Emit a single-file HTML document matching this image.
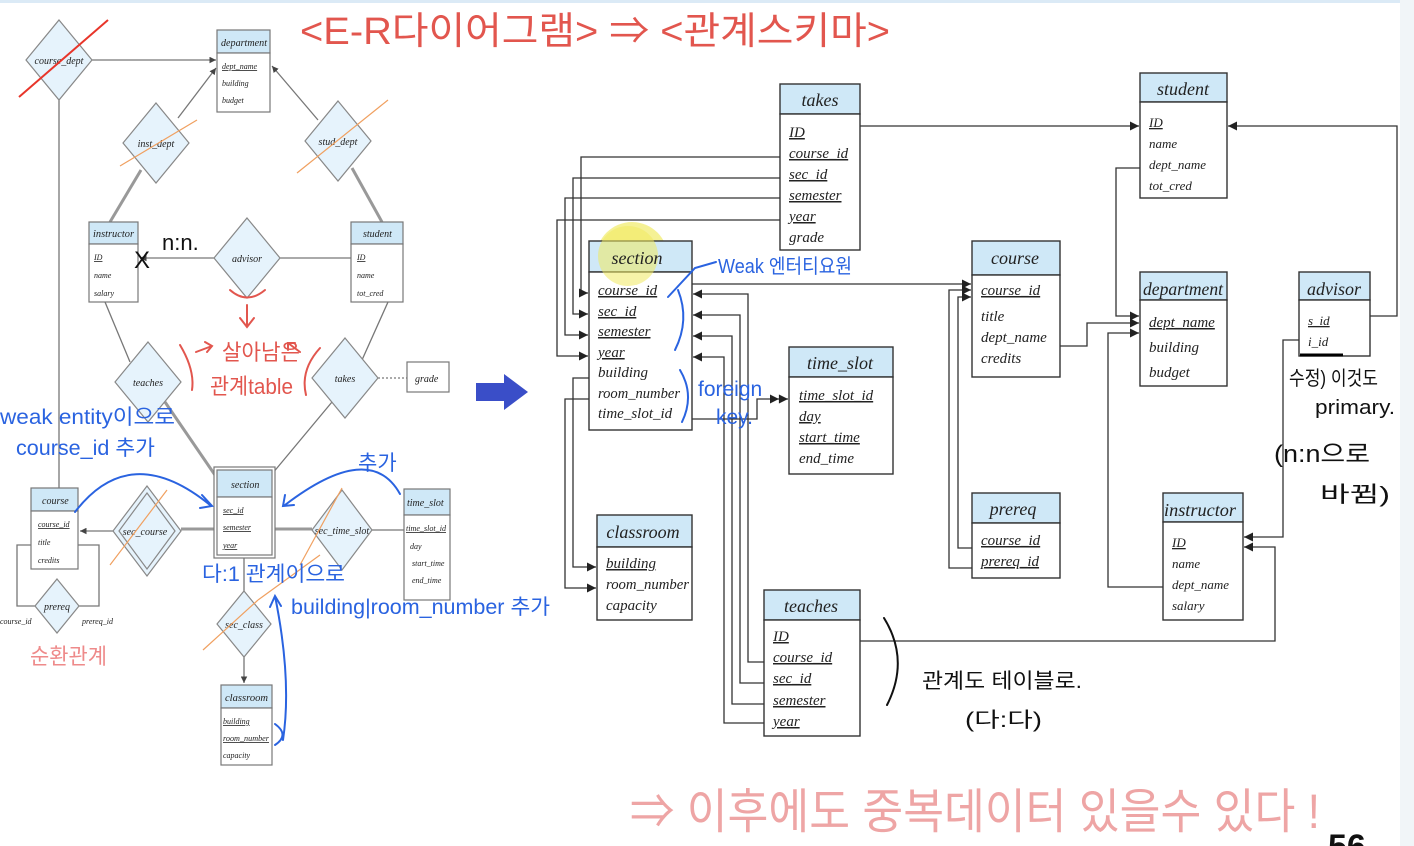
<!DOCTYPE html>
<html><head><meta charset="utf-8"><style>
html,body{margin:0;padding:0;background:#fff;width:1414px;height:846px;overflow:hidden}
svg{display:block}
.t{font-family:"Liberation Serif",serif;font-style:italic;fill:#222}
.u{text-decoration:underline}
.h{font-family:"Liberation Sans","Noto Sans CJK KR",sans-serif}
</style></head><body>
<svg width="1414" height="846" viewBox="0 0 1414 846" xmlns="http://www.w3.org/2000/svg">
<defs>
<marker id="a" viewBox="0 0 10 10" refX="10" refY="5" markerWidth="7" markerHeight="7" orient="auto"><path d="M0,0L10,5L0,10z" fill="#222"/></marker>
<marker id="a2" viewBox="0 0 20 10" refX="20" refY="5" markerWidth="14" markerHeight="7" orient="auto"><path d="M0,0L10,5L0,10zM10,0L20,5L10,10z" fill="#222"/></marker>
<marker id="s" viewBox="0 0 10 10" refX="10" refY="5" markerWidth="5" markerHeight="5" orient="auto"><path d="M0,0L10,5L0,10z" fill="#444"/></marker>
</defs>
<rect x="0" y="0" width="1414" height="3" fill="#dbeaf6"/>
<rect x="1400" y="0" width="14" height="846" fill="#f1f5f8"/>

<!-- ===== LEFT ER DIAGRAM ===== -->
<g stroke="#777" stroke-width="1.3" fill="none">
<line x1="59" y1="100" x2="59" y2="488"/>
<line x1="92" y1="60" x2="216" y2="60" marker-end="url(#s)"/>
<line x1="178" y1="118" x2="216" y2="68" marker-end="url(#s)"/>
<line x1="318" y1="120" x2="272" y2="66" marker-end="url(#s)"/>
<line x1="141" y1="170" x2="110" y2="222" stroke-width="3" stroke="#999"/>
<line x1="352" y1="168" x2="382" y2="222" stroke-width="3" stroke="#999"/>
<line x1="214" y1="258" x2="140" y2="258" marker-end="url(#s)"/>
<line x1="280" y1="258" x2="351" y2="258"/>
<line x1="105" y1="302" x2="130" y2="362"/>
<line x1="388" y1="302" x2="362" y2="360"/>
<line x1="165" y1="402" x2="217" y2="478" stroke-width="3" stroke="#999"/>
<line x1="332" y1="402" x2="272" y2="474"/>
<line x1="378" y1="378" x2="407" y2="378" stroke-dasharray="2,2"/>
<line x1="114" y1="531" x2="80" y2="531" marker-end="url(#s)"/>
<line x1="181" y1="529" x2="217" y2="529" stroke-width="3" stroke="#999"/>
<line x1="272" y1="529" x2="312" y2="529" stroke-width="3" stroke="#999"/>
<line x1="372" y1="530" x2="404" y2="530"/>
<line x1="244" y1="555" x2="244" y2="591"/>
<line x1="244" y1="657" x2="244" y2="683" marker-end="url(#s)"/>
<polyline points="31,545 17,545 17,606 35,606"/>
<polyline points="78,545 99,545 99,606 79,606"/>
</g>
<g stroke="#888" stroke-width="1.2" fill="#e6f3fc">
<polygon points="59,20 92,60 59,100 26,60"/>
<polygon points="156,103 189,143 156,183 123,143"/>
<polygon points="338,101 371,141 338,181 305,141"/>
<polygon points="247,218 280,258 247,298 214,258"/>
<polygon points="148,342 181,382 148,422 115,382"/>
<polygon points="345,338 378,378 345,418 312,378"/>
<polygon points="147,486 181,531 147,576 113,531"/>
<polygon points="147,493 175,531 147,569 119,531" fill="none"/>
<polygon points="342,490 372,530 342,570 312,530"/>
<polygon points="57,579 79,606 57,633 35,606"/>
<polygon points="244,591 271,624 244,657 217,624"/>
</g>
<g class="t" font-size="10" text-anchor="middle">
<text x="59" y="64">course_dept</text><text x="156" y="147">inst_dept</text><text x="338" y="145">stud_dept</text>
<text x="247" y="262">advisor</text><text x="148" y="386">teaches</text><text x="345" y="382">takes</text>
<text x="145" y="535">sec_course</text><text x="342" y="534">sec_time_slot</text><text x="57" y="610">prereq</text>
<text x="244" y="628">sec_class</text>
</g>
<g class="t" font-size="8"><text x="0" y="624">course_id</text><text x="82" y="624">prereq_id</text></g>
<!-- ER entities -->
<g stroke="#777" stroke-width="1.2">
<rect x="217" y="30" width="53" height="23" fill="#cfe8f7"/><rect x="217" y="53" width="53" height="59" fill="#fff"/>
<rect x="89" y="222" width="49" height="22" fill="#cfe8f7"/><rect x="89" y="244" width="49" height="58" fill="#fff"/>
<rect x="351" y="222" width="52" height="22" fill="#cfe8f7"/><rect x="351" y="244" width="52" height="58" fill="#fff"/>
<rect x="407" y="362" width="42" height="30" fill="#fff"/>
<rect x="31" y="488" width="47" height="23" fill="#cfe8f7"/><rect x="31" y="511" width="47" height="58" fill="#fff"/>
<rect x="214" y="467" width="61" height="91" fill="#fff"/>
<rect x="217" y="470" width="55" height="27" fill="#cfe8f7"/><rect x="217" y="497" width="55" height="58" fill="#fff"/>
<rect x="404" y="489" width="46" height="26" fill="#cfe8f7"/><rect x="404" y="515" width="46" height="85" fill="#fff"/>
<rect x="221" y="685" width="51" height="23" fill="#cfe8f7"/><rect x="221" y="708" width="51" height="57" fill="#fff"/>
</g>
<g class="t" font-size="10">
<text x="221" y="46" textLength="46" lengthAdjust="spacingAndGlyphs">department</text>
<text x="222" y="69" font-size="8" class="u">dept_name</text><text x="222" y="86" font-size="8">building</text><text x="222" y="103" font-size="8">budget</text>
<text x="93" y="237" textLength="41" lengthAdjust="spacingAndGlyphs">instructor</text>
<text x="94" y="260" font-size="8" class="u">ID</text><text x="94" y="278" font-size="8">name</text><text x="94" y="296" font-size="8">salary</text>
<text x="363" y="237">student</text>
<text x="357" y="260" font-size="8" class="u">ID</text><text x="357" y="278" font-size="8">name</text><text x="357" y="296" font-size="8">tot_cred</text>
<text x="415" y="382">grade</text>
<text x="42" y="504">course</text>
<text x="38" y="527" font-size="8" class="u">course_id</text><text x="38" y="545" font-size="8">title</text><text x="38" y="563" font-size="8">credits</text>
<text x="231" y="488">section</text>
<text x="223" y="513" font-size="8" class="u">sec_id</text><text x="223" y="530" font-size="8" class="u">semester</text><text x="223" y="548" font-size="8" class="u">year</text>
<text x="407" y="506">time_slot</text>
<text x="406" y="531" font-size="8" class="u" textLength="40" lengthAdjust="spacingAndGlyphs">time_slot_id</text><text x="410" y="549" font-size="8">day</text><text x="412" y="566" font-size="8">start_time</text><text x="412" y="583" font-size="8">end_time</text>
<text x="225" y="701" textLength="43" lengthAdjust="spacingAndGlyphs">classroom</text>
<text x="223" y="724" font-size="8" class="u">building</text><text x="223" y="741" font-size="8" class="u" textLength="46" lengthAdjust="spacingAndGlyphs">room_number</text><text x="223" y="758" font-size="8">capacity</text>
</g>
<!-- strike lines -->
<line x1="19" y1="97" x2="108" y2="20" stroke="#e8352a" stroke-width="2"/>
<g stroke="#f0a060" stroke-width="1.2">
<line x1="120" y1="166" x2="197" y2="120"/><line x1="297" y1="173" x2="388" y2="100"/>
<line x1="110" y1="565" x2="167" y2="490"/><line x1="300" y1="565" x2="342" y2="488"/>
<line x1="203" y1="650" x2="258" y2="600"/><line x1="258" y1="600" x2="320" y2="555"/>
</g>

<!-- ===== RIGHT SCHEMA ===== -->
<g stroke="#333" stroke-width="1.3" fill="none">
<line x1="860" y1="126" x2="1139" y2="126" marker-end="url(#a)"/>
<polyline points="1370,316 1397,316 1397,126 1228,126" marker-end="url(#a)"/>
<polyline points="1140,168 1116,168 1116,316 1139,316" marker-end="url(#a)"/>
<polyline points="1060,346 1087,346 1087,323 1139,323" marker-end="url(#a)"/>
<polyline points="1163,587 1108,587 1108,333 1139,333" marker-end="url(#a)"/>
<polyline points="1299,340 1283,340 1283,537 1244,537" marker-end="url(#a)"/>
<polyline points="860,641 1275,641 1275,547 1244,547" marker-end="url(#a)"/>
<line x1="692" y1="284" x2="971" y2="284" marker-end="url(#a)"/>
<polyline points="972,548 958,548 958,297 971,297" marker-end="url(#a)"/>
<polyline points="972,568 949,568 949,290 971,290" marker-end="url(#a)"/>
<polyline points="780,157 581,157 581,293 588,293" marker-end="url(#a)"/>
<polyline points="780,178 573,178 573,314 588,314" marker-end="url(#a)"/>
<polyline points="780,198 565,198 565,335 588,335" marker-end="url(#a)"/>
<polyline points="780,220 557,220 557,356 588,356" marker-end="url(#a)"/>
<polyline points="764,662 748,662 748,294 693,294" marker-end="url(#a)"/>
<polyline points="764,683 740,683 740,315 693,315" marker-end="url(#a)"/>
<polyline points="764,704 732,704 732,336 693,336" marker-end="url(#a)"/>
<polyline points="764,723 724,723 724,357 693,357" marker-end="url(#a)"/>
<polyline points="589,378 573,378 573,567 596,567" marker-end="url(#a)"/>
<polyline points="589,399 565,399 565,588 596,588" marker-end="url(#a)"/>
<polyline points="692,419 757,419 757,399 788,399" marker-end="url(#a2)"/>
</g>
<circle cx="632" cy="258" r="36" fill="#f3ee7a" opacity="0.8"/>
<g stroke="#333" stroke-width="1.4">
<rect x="780" y="84" width="80" height="30" fill="#cfe8f7"/><rect x="780" y="114" width="80" height="136" fill="#fff"/>
<rect x="1140" y="73" width="87" height="29" fill="#cfe8f7"/><rect x="1140" y="102" width="87" height="96" fill="#fff"/>
<rect x="589" y="241" width="103" height="31" fill="#cfe8f7"/><rect x="589" y="272" width="103" height="158" fill="#fff"/>
<rect x="972" y="241" width="88" height="34" fill="#cfe8f7"/><rect x="972" y="275" width="88" height="102" fill="#fff"/>
<rect x="1140" y="272" width="87" height="28" fill="#cfe8f7"/><rect x="1140" y="300" width="87" height="86" fill="#fff"/>
<rect x="1299" y="272" width="71" height="28" fill="#cfe8f7"/><rect x="1299" y="300" width="71" height="56" fill="#fff"/>
<rect x="789" y="347" width="104" height="30" fill="#cfe8f7"/><rect x="789" y="377" width="104" height="97" fill="#fff"/>
<rect x="597" y="515" width="95" height="32" fill="#cfe8f7"/><rect x="597" y="547" width="95" height="73" fill="#fff"/>
<rect x="764" y="590" width="96" height="30" fill="#cfe8f7"/><rect x="764" y="620" width="96" height="116" fill="#fff"/>
<rect x="972" y="493" width="88" height="30" fill="#cfe8f7"/><rect x="972" y="523" width="88" height="55" fill="#fff"/>
<rect x="1163" y="493" width="80" height="29" fill="#cfe8f7"/><rect x="1163" y="522" width="80" height="98" fill="#fff"/>
</g>
<circle cx="628" cy="256" r="30" fill="#f0ea60" opacity="0.55"/>
<g class="t" font-size="18" text-anchor="middle">
<text x="820" y="106">takes</text><text x="1183" y="95">student</text><text x="637" y="264">section</text>
<text x="1015" y="264">course</text><text x="1183" y="295" textLength="80" lengthAdjust="spacingAndGlyphs">department</text><text x="1334" y="295">advisor</text>
<text x="840" y="369">time_slot</text><text x="643" y="538">classroom</text><text x="811" y="612">teaches</text>
<text x="1013" y="515">prereq</text><text x="1200" y="516" textLength="72" lengthAdjust="spacingAndGlyphs">instructor</text>
</g>
<g class="t" font-size="15">
<text x="789" y="137" class="u">ID</text><text x="789" y="158" class="u">course_id</text><text x="789" y="179" class="u">sec_id</text><text x="789" y="200" class="u">semester</text><text x="789" y="221" class="u">year</text><text x="789" y="242">grade</text>
<text x="598" y="295" class="u">course_id</text><text x="598" y="316" class="u">sec_id</text><text x="598" y="336" class="u">semester</text><text x="598" y="357" class="u">year</text><text x="598" y="377">building</text><text x="598" y="398" textLength="82" lengthAdjust="spacingAndGlyphs">room_number</text><text x="598" y="418">time_slot_id</text>
<text x="799" y="400" class="u">time_slot_id</text><text x="799" y="421" class="u">day</text><text x="799" y="442" class="u">start_time</text><text x="799" y="463">end_time</text>
<text x="606" y="568" class="u">building</text><text x="606" y="589" textLength="83" lengthAdjust="spacingAndGlyphs">room_number</text><text x="606" y="610">capacity</text>
<text x="773" y="641" class="u">ID</text><text x="773" y="662" class="u">course_id</text><text x="773" y="683" class="u">sec_id</text><text x="773" y="705" class="u">semester</text><text x="773" y="726" class="u">year</text>
<text x="981" y="295" class="u">course_id</text><text x="981" y="321">title</text><text x="981" y="342">dept_name</text><text x="981" y="363">credits</text>
<text x="981" y="545" class="u">course_id</text><text x="981" y="566" class="u">prereq_id</text>
</g>
<g class="t" font-size="13">
<text x="1149" y="127" class="u">ID</text><text x="1149" y="148">name</text><text x="1149" y="169">dept_name</text><text x="1149" y="190">tot_cred</text>
<text x="1149" y="327" font-size="15" class="u">dept_name</text><text x="1149" y="352" font-size="15">building</text><text x="1149" y="377" font-size="15">budget</text>
<text x="1308" y="325" class="u">s_id</text><text x="1308" y="346">i_id</text>
<text x="1172" y="547" class="u">ID</text><text x="1172" y="568">name</text><text x="1172" y="589">dept_name</text><text x="1172" y="610">salary</text>
</g>
<line x1="1300" y1="355" x2="1343" y2="355" stroke="#000" stroke-width="3"/>

<!-- big blue arrow -->
<polygon points="476,383 504,383 504,374 528,392 504,410 504,401 476,401" fill="#3a4ec8"/>

<!-- annotations -->
<g class="h" lengthAdjust="spacingAndGlyphs">
<text x="300" y="44" font-size="38" fill="#e2564e" textLength="590" lengthAdjust="spacingAndGlyphs">&lt;E-R다이어그램&gt; ⇒ &lt;관계스키마&gt;</text>
<text x="630" y="828" font-size="48" fill="#eea5a5" textLength="690" lengthAdjust="spacingAndGlyphs">⇒ 이후에도 중복데이터 있을수 있다 !</text>
<text x="1328" y="858" font-size="34" font-weight="bold" fill="#111">56</text>
<text x="0" y="424" font-size="21" fill="#2a63e0" textLength="175" lengthAdjust="spacingAndGlyphs">weak entity이으로</text>
<text x="16" y="455" font-size="21" fill="#2a63e0" textLength="139" lengthAdjust="spacingAndGlyphs">course_id 추가</text>
<text x="358" y="470" font-size="21" fill="#2a63e0">추가</text>
<text x="202" y="581" font-size="21" fill="#2a63e0" textLength="143" lengthAdjust="spacingAndGlyphs">다:1 관계이으로</text>
<text x="291" y="614" font-size="21" fill="#2a63e0" textLength="259" lengthAdjust="spacingAndGlyphs">building|room_number 추가</text>
<text x="718" y="273" font-size="20" fill="#2a63e0" textLength="134" lengthAdjust="spacingAndGlyphs">Weak 엔터티요원</text>
<text x="698" y="396" font-size="21" fill="#2a63e0">foreign</text>
<text x="716" y="424" font-size="21" fill="#2a63e0">key.</text>
<text x="222" y="360" font-size="22" fill="#e2564e" textLength="78" lengthAdjust="spacingAndGlyphs">살아남은</text>
<text x="210" y="394" font-size="22" fill="#e2564e" textLength="83" lengthAdjust="spacingAndGlyphs">관계table</text>
<text x="30" y="664" font-size="22" fill="#ee8a8a" textLength="77" lengthAdjust="spacingAndGlyphs">순환관계</text>
<text x="162" y="250" font-size="22" fill="#111">n:n.</text>
<text x="134" y="268" font-size="24" fill="#111">X</text>
<text x="922" y="688" font-size="21" fill="#111" textLength="160" lengthAdjust="spacingAndGlyphs">관계도 테이블로.</text>
<text x="965" y="727" font-size="21" fill="#111" textLength="77" lengthAdjust="spacingAndGlyphs">(다:다)</text>
<text x="1289" y="385" font-size="20" fill="#111" textLength="89" lengthAdjust="spacingAndGlyphs">수정) 이것도</text>
<text x="1315" y="414" font-size="20" fill="#111" textLength="80" lengthAdjust="spacingAndGlyphs">primary.</text>
<text x="1274" y="462" font-size="24" fill="#111" textLength="96" lengthAdjust="spacingAndGlyphs">(n:n으로</text>
<text x="1320" y="502" font-size="22" fill="#111" textLength="70" lengthAdjust="spacingAndGlyphs">바뀜)</text>
</g>
<g fill="none" stroke-linecap="round">
<path d="M884,618 Q910,660 887,705" stroke="#111" stroke-width="2"/>
<path d="M678,290 Q690,320 675,350 M668,297 L695,268 L716,262" stroke="#2a63e0" stroke-width="2"/>
<path d="M680,370 Q695,395 682,422" stroke="#2a63e0" stroke-width="2"/>
<path d="M75,512 Q130,440 210,505 M202,495 L212,506 L200,508" stroke="#2a63e0" stroke-width="2"/>
<path d="M400,494 Q370,440 285,505 M285,495 L283,506 L294,505" stroke="#2a63e0" stroke-width="2"/>
<path d="M275,724 Q290,735 275,745 M283,740 Q292,680 275,596 M270,607 L275,596 L281,606" stroke="#2a63e0" stroke-width="2"/>
<path d="M230,290 Q247,305 265,290 M247,305 L247,325 M240,318 L247,327 L254,318" stroke="#e2564e" stroke-width="2"/>
<path d="M180,345 Q195,370 192,390 M196,352 L212,346 M205,342 L212,346 L207,352" stroke="#e2564e" stroke-width="2"/>
<path d="M320,348 Q300,370 306,395 M300,352 L288,343 M288,350 L288,343 L295,343" stroke="#e2564e" stroke-width="2"/>
</g>
</svg>
</body></html>
